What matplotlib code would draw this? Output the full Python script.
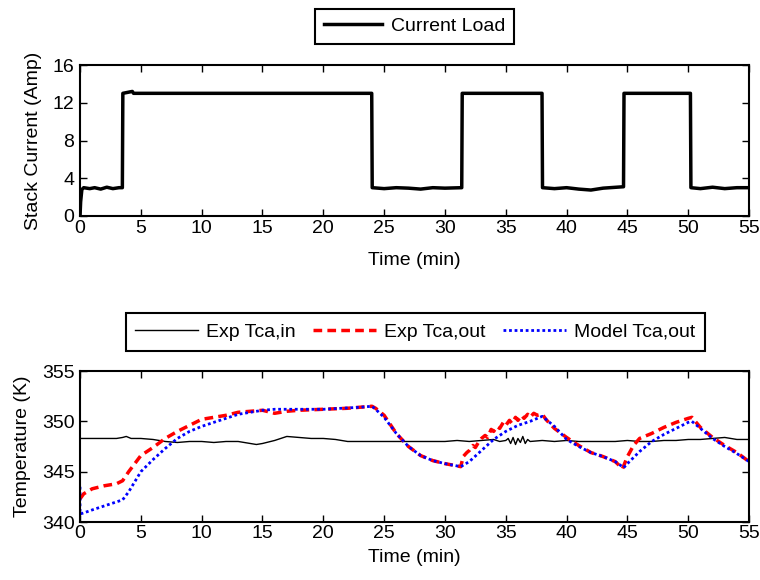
import matplotlib
matplotlib.use("Agg")
import matplotlib.pyplot as plt
import numpy as np

plt.rcParams['font.family'] = ['Liberation Sans', 'DejaVu Sans']

# ---- Data ----
cur_t = [0.0, 0.05, 0.15, 0.3, 0.8, 1.2, 1.7, 2.2, 2.7, 3.2, 3.48, 3.5, 3.52, 4.3, 4.4, 10, 15, 20, 23.98, 24.0, 24.02,
         25, 26, 27, 28, 29, 30, 31.38, 31.4, 31.42, 35, 37.98, 38.0, 38.02, 39, 40, 41, 42, 43, 44.68, 44.7, 44.72,
         47, 50.18, 50.2, 50.22, 51, 52, 53, 54, 55]
cur_v = [0.0, 1.5, 2.8, 3.0, 2.9, 3.0, 2.85, 3.05, 2.9, 3.0, 3.0, 8.0, 13.0, 13.2, 13.0, 13.0, 13.0, 13.0, 13.0, 8.0, 3.0,
         2.9, 3.0, 2.95, 2.85, 3.0, 2.95, 3.0, 8.0, 13.0, 13.0, 13.0, 8.0, 3.0, 2.9, 3.0, 2.85, 2.75, 2.95, 3.1, 8.0, 13.0,
         13.0, 13.0, 8.0, 3.0, 2.9, 3.05, 2.9, 3.0, 3.0]

tin_t = [0, 1, 2, 3, 3.5, 3.8, 4.2, 5, 6, 7, 8, 9, 10, 11, 12, 13, 14, 14.5, 15, 16, 17, 18, 19, 20, 21, 22, 23, 24,
         25, 26, 27, 28, 29, 30, 31, 32, 33, 34, 34.5, 35.0, 35.2, 35.4, 35.6, 35.8, 36.0, 36.2, 36.4, 36.6, 36.8, 37.0,
         38, 39, 40, 41, 42, 43, 44, 45, 46, 47, 48, 49,
         50, 51, 52, 53, 54, 55]
tin_v = [348.3, 348.3, 348.3, 348.3, 348.4, 348.5, 348.3, 348.3, 348.2, 348.0, 347.9, 348.0, 348.0, 347.9, 348.0, 348.0,
         347.8, 347.7, 347.8, 348.1, 348.5, 348.4, 348.3, 348.3, 348.2, 348.0, 348.0, 348.0,
         348.0, 348.0, 348.0, 348.0, 348.0, 348.0, 348.1, 348.0, 348.1, 348.2, 348.0, 348.1, 348.3, 347.8, 348.4, 347.7,
         348.3, 347.9, 348.5, 347.8, 348.2, 348.0,
         348.1, 348.0, 348.1, 348.0, 348.0, 348.0, 348.0, 348.1, 348.0, 348.0, 348.1, 348.1,
         348.2, 348.2, 348.3, 348.4, 348.2, 348.2]

tout_t = [0, 0.3, 1, 2, 3, 3.5, 4, 5, 6, 7, 8, 9, 10, 11, 12, 13, 14, 15, 16, 17, 18, 20, 22, 24, 24.3,
          25, 26, 27, 28, 29, 30, 31.3, 31.5, 31.8, 32.0, 32.3, 32.5, 32.8, 33.0, 33.3, 33.5, 33.8, 34.0, 34.3, 34.5,
          34.8, 35.0, 35.3, 35.5, 35.8, 36.0, 36.3, 36.5, 36.8, 37.0, 37.3, 37.6, 38.0, 38.3,
          38.6, 39, 40, 41, 42, 43, 44, 44.6,
          45, 45.5, 46, 47, 48, 49, 50, 50.3, 51, 52, 53, 54, 55]
tout_v = [342.3, 342.8, 343.3, 343.6, 343.8, 344.1, 345.0, 346.6, 347.4, 348.3, 349.0, 349.6, 350.2, 350.4, 350.6,
          350.9, 351.0, 351.1, 350.8, 351.0, 351.1, 351.2, 351.3, 351.5, 351.3,
          350.6, 348.8, 347.5, 346.6, 346.1, 345.8, 345.5, 346.5, 346.9, 347.1, 347.6, 347.4, 348.0, 348.3, 348.6,
          348.4, 349.2, 349.0, 349.5, 349.3, 349.9, 349.6, 350.1, 349.8, 350.4, 350.1, 350.6, 350.3, 350.7, 350.4,
          350.8, 350.6, 350.7, 350.2,
          349.8, 349.3, 348.4, 347.6, 346.9, 346.5, 346.0, 345.3,
          346.5, 347.6, 348.3, 348.8, 349.4, 349.9, 350.3, 350.4, 349.4, 348.4, 347.6, 346.9, 346.0]

mod_t = [0, 0.0, 0.3, 1, 2, 3, 3.5, 4, 5, 6, 7, 8, 9, 10, 11, 12, 13, 14, 15, 16, 20, 23, 24, 24.3,
         25, 26, 27, 28, 29, 30, 31.3, 32, 33, 34, 35, 36, 37, 38, 39, 40, 41, 42, 43, 44, 44.7,
         45, 46, 47, 48, 49, 50, 50.3, 51, 52, 53, 54, 55]
mod_v = [343.5, 340.8, 340.9, 341.2, 341.6, 342.0, 342.2, 343.0, 345.0, 346.2, 347.3, 348.3, 349.0, 349.5, 349.9,
         350.3, 350.7, 350.9, 351.1, 351.2, 351.2, 351.4, 351.5, 351.2,
         350.4, 348.8, 347.5, 346.6, 346.1, 345.8, 345.5, 346.0, 347.1, 348.2, 349.0, 349.6, 350.0, 350.5, 349.5,
         348.2, 347.5, 346.9, 346.5, 346.0, 345.4,
         345.8, 347.0, 348.0, 348.7, 349.3, 349.9, 350.0, 349.3, 348.3, 347.5, 346.8, 346.0]

xticks = [0, 5, 10, 15, 20, 25, 30, 35, 40, 45, 50, 55]
cur_yticks = [0, 4, 8, 12, 16]
temp_yticks = [340, 345, 350, 355]

fs = 14
fig = plt.figure(figsize=(7.6, 5.8), dpi=100)
ax1 = fig.add_axes([0.1053, 0.6276, 0.8803, 0.2603])
ax2 = fig.add_axes([0.1053, 0.1, 0.8803, 0.2603])

l1, = ax1.plot(cur_t, cur_v, color='black', lw=2.5, label='Current Load')
ax1.set_xlim(0, 55)
ax1.set_ylim(0, 16)
ax1.set_xticks(xticks)
ax1.set_yticks(cur_yticks)
ax1.set_xlabel('Time (min)', fontsize=fs, labelpad=11)
ax1.set_ylabel('Stack Current (Amp)', fontsize=fs, labelpad=8)

ax2.plot(tin_t, tin_v, color='black', lw=1.0, label='Exp Tca,in')
ax2.plot(tout_t, tout_v, color='red', lw=2.5, ls=(0, (2.5, 1.5)), label='Exp Tca,out')
ax2.plot(mod_t, mod_v, color='blue', lw=2.0, ls=(0, (1, 1)), label='Model Tca,out')
ax2.set_xlim(0, 55)
ax2.set_ylim(340, 355)
ax2.set_xticks(xticks)
ax2.set_yticks(temp_yticks)
ax2.set_xlabel('Time (min)', fontsize=fs, labelpad=5)
ax2.set_ylabel('Temperature (K)', fontsize=fs, labelpad=8)

for ax in (ax1, ax2):
    ax.tick_params(direction='in', top=True, right=True, labelsize=fs, length=5, width=1)
    ax.tick_params(axis='y', pad=4)
    for s in ax.spines.values():
        s.set_linewidth(1.5)
ax1.tick_params(axis='x', pad=3)
ax2.tick_params(axis='x', pad=2)

leg1 = fig.legend(handles=[l1], loc='center', bbox_to_anchor=(0.5455, 0.955), ncol=1, fontsize=fs,
                  fancybox=False, edgecolor='black', framealpha=1, handlelength=3.0, borderpad=0.45,
                  handletextpad=0.45, borderaxespad=0)
leg1.get_frame().set_linewidth(1.5)
h, lab = ax2.get_legend_handles_labels()
leg2 = fig.legend(h, lab, loc='center', bbox_to_anchor=(0.5467, 0.4276), ncol=3, fontsize=fs,
                  fancybox=False, edgecolor='black', framealpha=1, handlelength=3.2, borderpad=0.5,
                  handletextpad=0.45, columnspacing=0.9, borderaxespad=0)
leg2.get_frame().set_linewidth(1.5)

fig.savefig('out.png', dpi=100)
